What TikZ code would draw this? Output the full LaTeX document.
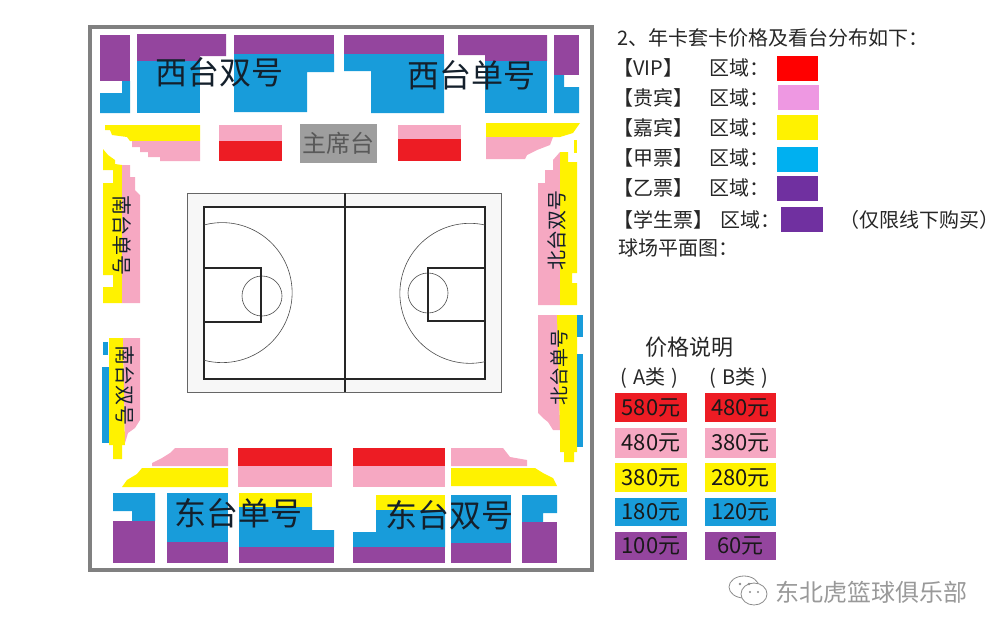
\documentclass[tikz,border=0pt]{standalone}
\usepackage{fontspec}
\setmainfont{Noto Sans CJK SC}
\usetikzlibrary{positioning}
\definecolor{sred}{HTML}{ED1C24}
\definecolor{spink}{HTML}{F6A8C2}
\definecolor{syel}{HTML}{FFF200}
\definecolor{sblue}{HTML}{189CDA}
\definecolor{spur}{HTML}{94459E}
\definecolor{ink}{HTML}{14202C}
\newcommand{\fs}[1]{\fontsize{#1}{#1}\selectfont}
\tikzset{
  every node/.style={inner sep=0pt, text=ink},
  stand/.style={font=\fs{32}},
  side/.style={font=\fs{20}},
  legend/.style={font=\fs{20}, text=black!85, anchor=west},
  swatch/.style={minimum width=41pt, minimum height=25pt},
  pricebox/.style={minimum width=72pt, font=\fs{22}, text=black!90},
  keyline/.style={line width=1.1pt, black!85},
  arcline/.style={line width=.6pt, black!70}
}
\begin{document}
\begin{tikzpicture}[x=1pt,y=-1pt]
\useasboundingbox (0,0) rectangle (1000,635);
% outer frame
\draw[line width=4pt, black!50] (90,27) rectangle (592,570);
% west stand
\fill[spur] (100,35) rectangle (130,81);
\fill[sblue] (122,81) -- (130,81) -- (130,113) -- (100,113) -- (100,93) -- (122,93) -- cycle;
\fill[spur] (137,34) -- (226,34) -- (226,56) -- (200,56) -- (200,61) -- (137,61) -- cycle;
\fill[sblue] (137,61) rectangle (200,113);
\fill[spur] (234,35) rectangle (334,54);
\fill[sblue] (234,54) -- (334,54) -- (334,72) -- (307,72) -- (307,112) -- (234,112) -- cycle;
\fill[spur] (344,35) rectangle (444,54);
\fill[sblue] (344,54) -- (444,54) -- (444,113) -- (371,113) -- (371,71) -- (344,71) -- cycle;
\fill[spur] (458,35) -- (547,35) -- (547,61) -- (485,61) -- (485,55) -- (458,55) -- cycle;
\fill[sblue] (485,61) rectangle (547,113);
\fill[spur] (554,35) rectangle (579,75);
\fill[sblue] (554,75) -- (564,75) -- (564,87) -- (579,87) -- (579,113) -- (554,113) -- cycle;
% west front rows
\fill[syel] (105,125) -- (200,125) -- (200,141) -- (130,141) -- (127,137) -- (112,135) -- (110,130) -- (105,130) -- cycle;
\fill[spink] (132,141) -- (200,141) -- (200,161) -- (160,161) -- (160,157) -- (148,157) -- (148,152) -- (140,152) -- (140,147) -- (132,147) -- cycle;
\fill[spink] (219,125) rectangle (282,141);
\fill[sred] (219,141) rectangle (282,161);
\fill[spink] (398,125) rectangle (461,139);
\fill[sred] (398,139) rectangle (461,161);
\fill[syel] (486,123) -- (580,123) -- (573,133) -- (560,137) -- (486,137) -- cycle;
\fill[spink] (486,137) -- (553,137) -- (550,145) -- (537,150) -- (527,155) -- (525,159) -- (486,159) -- cycle;
% north stand
\fill[syel] (574,140) rectangle (577,153);
\fill[spink] (538,183) -- (545,183) -- (545,170) -- (553,170) -- (553,160) -- (560,152) -- (560,305) -- (538,305) -- cycle;
\fill[syel] (560,152) -- (568,152) -- (568,162) -- (577,162) -- (577,273) -- (572,273) -- (572,283) -- (577,283) -- (577,305) -- (560,305) -- cycle;
\fill[spink] (538,315) -- (558,315) -- (560,430) -- (553,430) -- (548,422) -- (543,418) -- (538,413) -- cycle;
\fill[syel] (557,315) -- (577,315) -- (577,452) -- (574,452) -- (574,462) -- (564,462) -- (564,452) -- (560,452) -- (560,430) -- cycle;
\fill[sblue] (577,315) rectangle (583,337);
\fill[sblue] (577,354) rectangle (583,447);
% south stand
\fill[syel] (103,149) -- (108,155) -- (115,160) -- (115,164) -- (122,165) -- (122,303) -- (103,303) -- (103,287) -- (113,287) -- (113,275) -- (103,275) -- (103,183) -- (113,183) -- (113,170) -- (103,170) -- cycle;
\fill[spink] (122,165) -- (130,165) -- (130,177) -- (135,177) -- (135,190) -- (140,195) -- (140,303) -- (122,303) -- cycle;
\fill[sblue] (103,342) rectangle (108,355);
\fill[sblue] (102,367) rectangle (109,443);
\fill[syel] (109,338) -- (123,338) -- (125,445) -- (122,445) -- (122,459) -- (113,459) -- (113,445) -- (109,445) -- cycle;
\fill[spink] (123,338) -- (140,338) -- (140,420) -- (135,428) -- (128,433) -- (125,443) -- cycle;
% east front rows
\fill[spink] (175,448) -- (228,448) -- (228,466) -- (152,466) -- (152,463) -- (162,458) -- (170,453) -- cycle;
\fill[syel] (142,468) -- (228,468) -- (228,487) -- (122,487) -- (127,480) -- (137,474) -- cycle;
\fill[sred] (238,448) rectangle (332,466);
\fill[spink] (238,466) rectangle (332,487);
\fill[sred] (353,448) rectangle (445,466);
\fill[spink] (353,466) rectangle (445,487);
\fill[spink] (451,448) -- (503,448) -- (510,457) -- (527,460) -- (527,466) -- (451,466) -- cycle;
\fill[syel] (451,468) -- (535,468) -- (543,473) -- (553,478) -- (557,486) -- (451,486) -- cycle;
% east stand
\fill[sblue] (113,493) -- (155,493) -- (155,521) -- (132,521) -- (132,511) -- (113,511) -- cycle;
\fill[spur] (113,521) rectangle (155,563);
\fill[sblue] (167,493) rectangle (228,542);
\fill[spur] (167,542) rectangle (228,563);
\fill[syel] (239,493) rectangle (312,507);
\fill[sblue] (239,507) -- (312,507) -- (312,530) -- (334,530) -- (334,547) -- (239,547) -- cycle;
\fill[spur] (239,547) rectangle (334,563);
\fill[syel] (376,495) rectangle (445,510);
\fill[sblue] (376,510) -- (445,510) -- (445,547) -- (353,547) -- (353,532) -- (376,532) -- cycle;
\fill[spur] (353,547) rectangle (445,563);
\fill[sblue] (451,495) rectangle (511,543);
\fill[spur] (451,543) rectangle (511,563);
\fill[sblue] (522,495) -- (557,495) -- (557,513) -- (543,513) -- (543,522) -- (522,522) -- cycle;
\fill[spur] (522,522) rectangle (557,563);
% court
\draw[black!60, fill=black!3, line width=.8pt] (187,193) rectangle (501,392);
\draw[keyline, fill=white] (204,207) rectangle (485,379);
\draw[keyline] (345,193) -- (345,392);
\draw[arcline] (204,225) arc[start angle=105, end angle=-105, radius=70pt];
\draw[arcline] (485,225) arc[start angle=77.5, end angle=282.5, radius=70pt];
\draw[arcline] (262,296) circle (20pt);
\draw[arcline] (428,293) circle (20pt);
\draw[keyline] (204,268) rectangle (261,322);
\draw[keyline] (428,268) rectangle (485,321);
% stand names
\node (west2) [stand] at (219,72) {西台双号};
\node (west1) [stand] at (471,75) {西台单号};
\node (east1) [stand] at (238,513) {东台单号};
\node (east2) [stand] at (449,515) {东台双号};
\node (seat) [fill=black!38, minimum width=77pt, minimum height=39pt, font=\fs{24}, text=black!65] at (338.5,143.5) {主席台};
\node (south1) [side, rotate=-90] at (122,235) {南台单号};
\node (south2) [side, rotate=-90] at (125,385) {南台双号};
\node (north2) [side, rotate=90] at (557,230) {北台双号};
\node (north1) [side, rotate=90, font=\fs{19}] at (559,367) {北台单号};
% legend
\node (title) [legend] at (617,38) {2、年卡套卡价格及看台分布如下：};
\foreach \i/\nm/\yy in {1/VIP/68, 2/贵宾/98, 3/嘉宾/128, 4/甲票/158, 5/乙票/188}{
  \node (name\i) [legend] at (613,\yy) {【\nm】};
  \node (area\i) [legend] at (709,\yy) {区域：};
}
\node (sw1) [swatch, fill=red] at (797.5,68) {};
\node (sw2) [swatch, fill={rgb,255:red,238;green,152;blue,226}] at (798,97) {};
\node (sw3) [swatch, fill=yellow] at (797.5,127) {};
\node (sw4) [swatch, fill={rgb,255:red,0;green,176;blue,240}] at (797.5,159) {};
\node (sw5) [swatch, fill={rgb,255:red,112;green,48;blue,160}] at (797.5,188.5) {};
\node (name6) [legend] at (613,220) {【学生票】};
\node (area6) [legend] at (720,220) {区域：};
\node (sw6) [swatch, minimum width=42pt, fill={rgb,255:red,112;green,48;blue,160}] at (802,219.5) {};
\node (note) [legend, anchor=east] at (1000,220) {（仅限线下购买）};
\node (plan) [legend] at (618,248) {球场平面图：};
% price list
\node (pricehd) [font=\fs{22}, text=black!85] at (689.5,347) {价格说明};
\node (ahd) [font=\fs{20}, text=black!85] at (649.5,378) {(\hspace{6pt}A类\hspace{6pt})};
\node (bhd) [font=\fs{20}, text=black!85] at (739,378) {(\hspace{6pt}B类\hspace{6pt})};
\foreach \i/\yy/\hh/\cc/\pa/\pb in {1/407.5/29/sred/580/480, 2/443/30/spink/480/380, 3/477.5/29/syel/380/280, 4/512/28/sblue/180/120, 5/546/28/spur/100/60}{
  \node (pa\i) [pricebox, minimum height=\hh pt, fill=\cc] at (651,\yy) {\pa 元};
  \node (pb\i) [pricebox, minimum width=71pt, minimum height=\hh pt, fill=\cc] at (740.5,\yy) {\pb 元};
}
% watermark
\draw[black!45, line width=.8pt] (744,587) ellipse (15pt and 11pt);
\draw[black!45, line width=.8pt, fill=white] (754,594) ellipse (13pt and 11pt);
\fill[black!45] (740,584) circle (1.3pt) (749,584) circle (1.3pt) (750,592) circle (1.2pt) (758,592) circle (1.2pt);
\node (mark) [font=\fs{24}, text=black!40] at (871,592) {东北虎篮球俱乐部};
\end{tikzpicture}
\end{document}
